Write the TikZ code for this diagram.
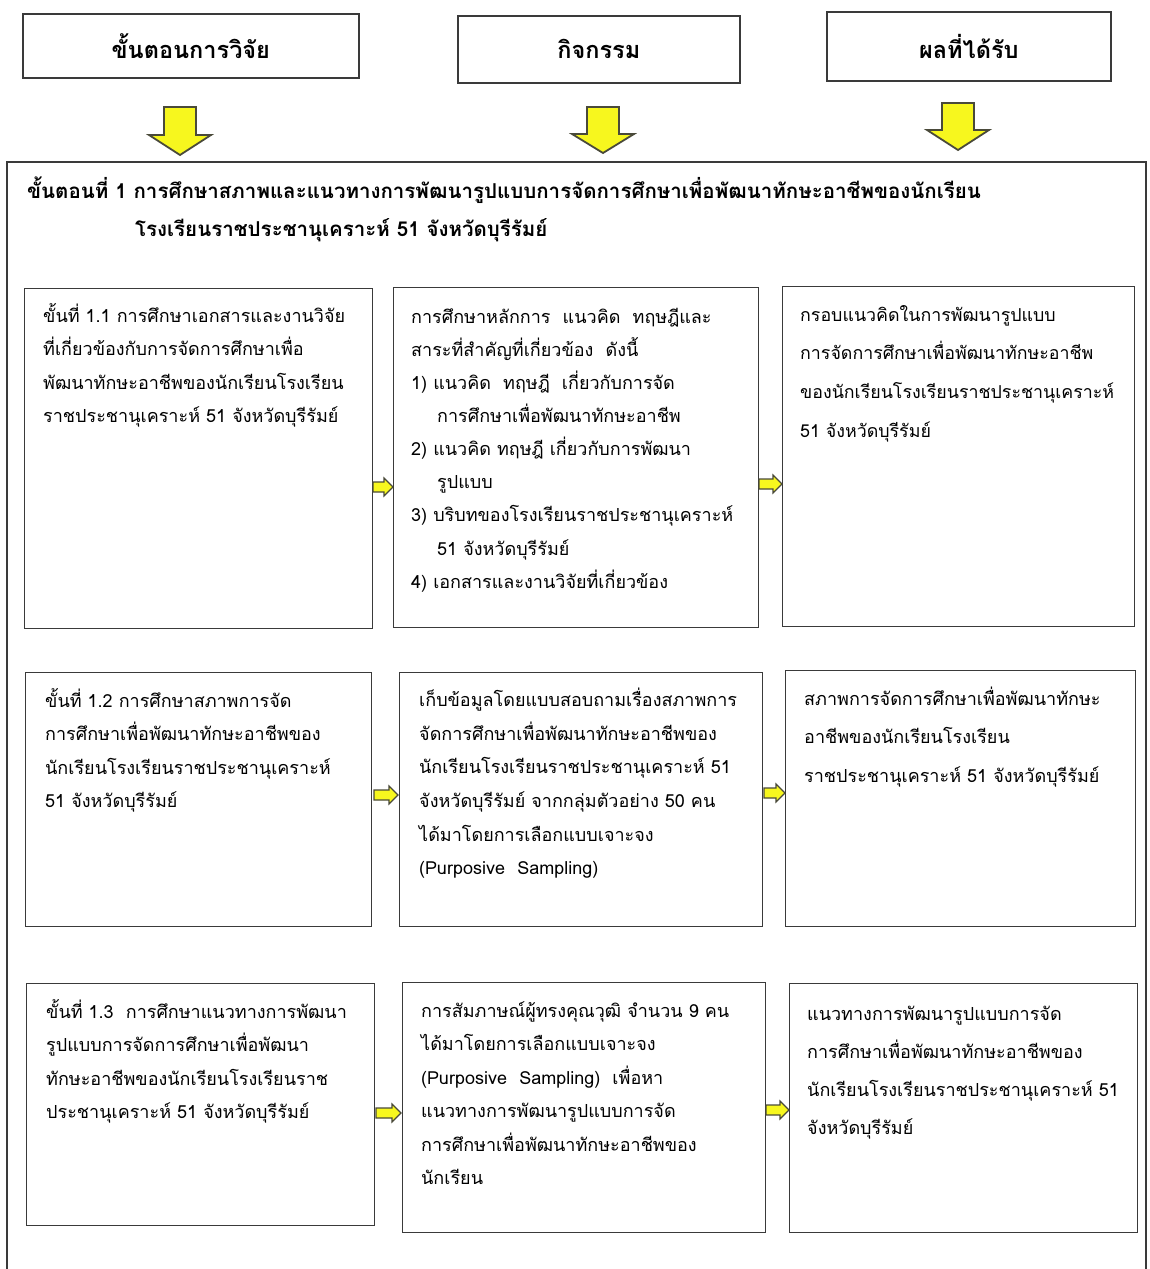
\documentclass[tikz,border=0pt]{standalone}
\usepackage{fontspec}
\newfontfamily\thai[Script=Thai]{Loma}
\definecolor{arrowyellow}{HTML}{F7F71E}
\definecolor{arrowedge}{HTML}{4A4A3A}
\definecolor{boxedge}{HTML}{3A3A3A}
\tikzset{
  hdrbox/.style={draw=boxedge, line width=1.6pt, fill=white, inner sep=0pt, anchor=north west,
    font=\thai\bfseries\fontsize{23.5}{27}\selectfont},
  cellbox/.style={draw=boxedge, line width=1.3pt, inner sep=0pt, anchor=north west},
  celltext/.style={inner sep=0pt, anchor=north west, align=left},
  blockarrow/.style={fill=arrowyellow, draw=arrowedge, line width=1.8pt, line join=miter},
  smallarrow/.style={fill=arrowyellow, draw=arrowedge, line width=1.2pt, line join=miter},
}
\newcommand{\downarrowblk}[4]{% cx, top, headbase, tip
  \path[blockarrow] (#1-16,#2) -- (#1+16,#2) -- (#1+16,#3) -- (#1+31,#3) -- (#1,#4)
     -- (#1-31,#3) -- (#1-16,#3) -- cycle;}
\newcommand{\rightarrowblk}[3]{% x1, x2, y
  \path[smallarrow] (#1,#3-5) -- (#2-9,#3-5) -- (#2-9,#3-9) -- (#2,#3) -- (#2-9,#3+9)
     -- (#2-9,#3+5) -- (#1,#3+5) -- cycle;}
\newcommand{\bodyA}{\thai\fontsize{18}{33.3}\selectfont}
\newcommand{\bodyB}{\thai\fontsize{18}{38.5}\selectfont}
\begin{document}
\begin{tikzpicture}[x=1pt,y=-1pt]
\useasboundingbox (0,0) rectangle (1149,1269);
\fill[white] (0,0) rectangle (1149,1269);

% header boxes
\node[hdrbox, minimum width=336pt, minimum height=64pt] (h1) at (22,13) {ขั้นตอนการวิจัย};
\node[hdrbox, minimum width=282pt, minimum height=67pt] (h2) at (457,15) {กิจกรรม};
\node[hdrbox, minimum width=284pt, minimum height=69pt] (h3) at (826,11) {ผลที่ได้รับ};

% block arrows
\downarrowblk{180}{107}{135}{155}
\downarrowblk{603}{107}{134}{153}
\downarrowblk{958}{103}{130}{150}

% outer frame (open at the bottom)
\draw[draw=boxedge, line width=1.3pt] (7,1269) -- (7,162) -- (1146,162) -- (1146,1269);

% title
\node[celltext, font=\thai\bfseries\fontsize{20.5}{38}\selectfont] (title) at (27,172)
  {\strut ขั้นตอนที่ 1 การศึกษาสภาพและแนวทางการพัฒนารูปแบบการจัดการศึกษาเพื่อพัฒนาทักษะอาชีพของนักเรียน\\
   \hspace*{108pt}โรงเรียนราชประชานุเคราะห์ 51 จังหวัดบุรีรัมย์};

% row 1
\node[cellbox, minimum width=348pt, minimum height=340pt] (a1) at (24,288) {};
\node[cellbox, minimum width=365pt, minimum height=340pt] (b1) at (393,287) {};
\node[cellbox, minimum width=352pt, minimum height=340pt] (c1) at (782,286) {};
\node[celltext, font=\bodyA] (ta1) at (43,299)
  {\strut ขั้นที่ 1.1 การศึกษาเอกสารและงานวิจัย\\
   ที่เกี่ยวข้องกับการจัดการศึกษาเพื่อ\\
   พัฒนาทักษะอาชีพของนักเรียนโรงเรียน\\
   ราชประชานุเคราะห์ 51 จังหวัดบุรีรัมย์};
\node[celltext, font=\thai\fontsize{18}{33.1}\selectfont] (tb1) at (411,300)
  {\strut การศึกษาหลักการ\ \ แนวคิด\ \ ทฤษฎีและ\\
   สาระที่สำคัญที่เกี่ยวข้อง\ \ ดังนี้\\
   1) แนวคิด\ \ ทฤษฎี\ \ เกี่ยวกับการจัด\\
   \hspace*{26pt}การศึกษาเพื่อพัฒนาทักษะอาชีพ\\
   2) แนวคิด ทฤษฎี เกี่ยวกับการพัฒนา\\
   \hspace*{26pt}รูปแบบ\\
   3) บริบทของโรงเรียนราชประชานุเคราะห์\\
   \hspace*{26pt}51 จังหวัดบุรีรัมย์\\
   4) เอกสารและงานวิจัยที่เกี่ยวข้อง};
\node[celltext, font=\thai\fontsize{17.8}{38.7}\selectfont] (tc1) at (800,294)
  {\strut กรอบแนวคิดในการพัฒนารูปแบบ\\
   การจัดการศึกษาเพื่อพัฒนาทักษะอาชีพ\\
   ของนักเรียนโรงเรียนราชประชานุเคราะห์\\
   51 จังหวัดบุรีรัมย์};

% row 2
\node[cellbox, minimum width=346pt, minimum height=254pt] (a2) at (25,672) {};
\node[cellbox, minimum width=363pt, minimum height=254pt] (b2) at (399,672) {};
\node[cellbox, minimum width=350pt, minimum height=256pt] (c2) at (785,670) {};
\node[celltext, font=\bodyA] (ta2) at (45,684)
  {\strut ขั้นที่ 1.2 การศึกษาสภาพการจัด\\
   การศึกษาเพื่อพัฒนาทักษะอาชีพของ\\
   นักเรียนโรงเรียนราชประชานุเคราะห์\\
   51 จังหวัดบุรีรัมย์};
\node[celltext, font=\thai\fontsize{18}{33.6}\selectfont] (tb2) at (419,683)
  {\strut เก็บข้อมูลโดยแบบสอบถามเรื่องสภาพการ\\
   จัดการศึกษาเพื่อพัฒนาทักษะอาชีพของ\\
   นักเรียนโรงเรียนราชประชานุเคราะห์ 51\\
   จังหวัดบุรีรัมย์ จากกลุ่มตัวอย่าง 50 คน\\
   ได้มาโดยการเลือกแบบเจาะจง\\
   (Purposive\ \ Sampling)};
\node[celltext, font=\bodyB] (tc2) at (804,678)
  {\strut สภาพการจัดการศึกษาเพื่อพัฒนาทักษะ\\
   อาชีพของนักเรียนโรงเรียน\\
   ราชประชานุเคราะห์ 51 จังหวัดบุรีรัมย์};

% row 3
\node[cellbox, minimum width=348pt, minimum height=242pt] (a3) at (26,983) {};
\node[cellbox, minimum width=363pt, minimum height=250pt] (b3) at (402,982) {};
\node[cellbox, minimum width=348pt, minimum height=249pt] (c3) at (789,983) {};
\node[celltext, font=\bodyA] (ta3) at (46,995)
  {\strut ขั้นที่ 1.3\ \ การศึกษาแนวทางการพัฒนา\\
   รูปแบบการจัดการศึกษาเพื่อพัฒนา\\
   ทักษะอาชีพของนักเรียนโรงเรียนราช\\
   ประชานุเคราะห์ 51 จังหวัดบุรีรัมย์};
\node[celltext, font=\thai\fontsize{18}{33.4}\selectfont] (tb3) at (421,994)
  {\strut การสัมภาษณ์ผู้ทรงคุณวุฒิ จำนวน 9 คน\\
   ได้มาโดยการเลือกแบบเจาะจง\\
   (Purposive\ \ Sampling)\ \ เพื่อหา\\
   แนวทางการพัฒนารูปแบบการจัด\\
   การศึกษาเพื่อพัฒนาทักษะอาชีพของ\\
   นักเรียน};
\node[celltext, font=\thai\fontsize{18}{38}\selectfont] (tc3) at (807,994)
  {\strut แนวทางการพัฒนารูปแบบการจัด\\
   การศึกษาเพื่อพัฒนาทักษะอาชีพของ\\
   นักเรียนโรงเรียนราชประชานุเคราะห์ 51\\
   จังหวัดบุรีรัมย์};

% small connecting arrows
\rightarrowblk{373}{393}{487}
\rightarrowblk{759}{782}{484}
\rightarrowblk{374}{398}{795}
\rightarrowblk{764}{785}{793}
\rightarrowblk{376}{401}{1113}
\rightarrowblk{766}{789}{1110}
\end{tikzpicture}
\end{document}
